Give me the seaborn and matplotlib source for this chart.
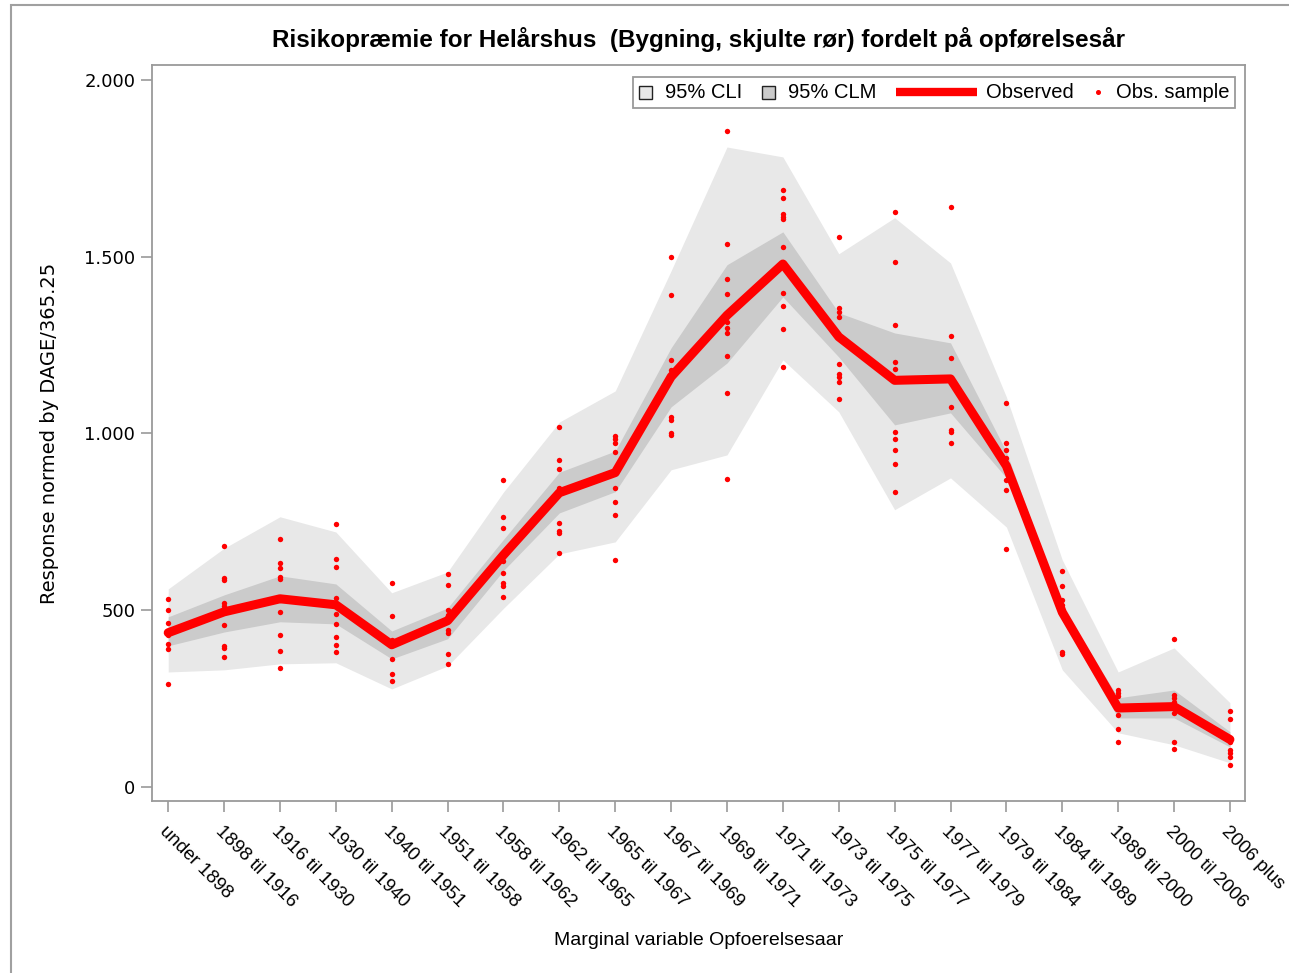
"""
Risk premium by construction period, observed mean with CLI / CLM bands.
"""
import matplotlib
matplotlib.use("Agg")
import matplotlib.pyplot as plt
import seaborn as sns
import pandas as pd
import numpy as np
from matplotlib.offsetbox import AnchoredOffsetbox, DrawingArea, HPacker, TextArea
from matplotlib.patches import Rectangle
from matplotlib.lines import Line2D

periods = ["under 1898", "1898 til 1916", "1916 til 1930", "1930 til 1940",
           "1940 til 1951", "1951 til 1958", "1958 til 1962", "1962 til 1965",
           "1965 til 1967", "1967 til 1969", "1969 til 1971", "1971 til 1973",
           "1973 til 1975", "1975 til 1977", "1977 til 1979", "1979 til 1984",
           "1984 til 1989", "1989 til 2000", "2000 til 2006", "2006 plus"]

observed = [436, 495, 532, 515, 402, 470, 656, 832, 889, 1160,
            1334, 1479, 1273, 1150, 1154, 908, 494, 223, 227, 134]

cli_low = [325, 331, 348, 351, 277, 342, 505, 659, 693, 897,
           939, 1208, 1061, 784, 874, 735, 331, 153, 119, 68]
cli_high = [560, 675, 764, 721, 549, 608, 834, 1032, 1120, 1460,
            1810, 1782, 1508, 1610, 1482, 1103, 642, 325, 393, 238]
clm_low = [399, 438, 467, 461, 362, 419, 612, 775, 835, 1075,
           1199, 1386, 1216, 1024, 1058, 874, 472, 195, 195, 113]
clm_high = [481, 543, 597, 574, 441, 506, 700, 890, 950, 1242,
            1477, 1570, 1341, 1284, 1256, 948, 509, 252, 274, 156]

# sampled observations per period
obs_sample = [
    [532, 501, 464, 440, 430, 405, 390, 291],
    [682, 591, 586, 520, 512, 458, 399, 393, 368],
    [702, 634, 620, 594, 588, 529, 495, 430, 385, 337],
    [744, 645, 622, 535, 489, 461, 424, 402, 382],
    [577, 484, 416, 362, 320, 300],
    [603, 571, 501, 487, 444, 436, 376, 348],
    [868, 764, 733, 639, 605, 577, 569, 537],
    [1018, 925, 899, 846, 747, 724, 719, 662],
    [993, 984, 973, 948, 846, 806, 769, 642],
    [1499, 1392, 1208, 1180, 1047, 1038, 1001, 996],
    [1856, 1536, 1437, 1395, 1315, 1298, 1284, 1219, 1115, 871],
    [1689, 1666, 1621, 1612, 1605, 1528, 1397, 1361, 1296, 1188],
    [1556, 1355, 1344, 1330, 1197, 1168, 1160, 1146, 1098],
    [1627, 1485, 1307, 1202, 1182, 1004, 984, 953, 914, 834],
    [1641, 1276, 1214, 1075, 1010, 1004, 973],
    [1086, 973, 953, 931, 905, 868, 840, 673],
    [611, 569, 529, 515, 501, 382, 376],
    [274, 266, 257, 204, 164, 127],
    [419, 260, 251, 240, 209, 127, 107],
    [215, 192, 139, 127, 105, 96, 85, 62],
]

RED = "#FF0000"
CLI_COLOR = "#E8E8E8"
CLM_COLOR = "#CBCBCB"
SPINE = "#9A9A9A"

sns.set_theme(style="white")
plt.rcParams["font.family"] = ["Liberation Sans", "DejaVu Sans"]
plt.rcParams["text.color"] = "black"
plt.rcParams["axes.labelcolor"] = "black"

pos = np.arange(len(periods))
line_df = pd.DataFrame({"pos": pos, "observed": observed})
pts_df = pd.DataFrame(
    [(i, v) for i, vals in enumerate(obs_sample) for v in vals],
    columns=["pos", "value"])

fig = plt.figure(figsize=(12.89, 9.73), dpi=100)
ax = fig.add_axes([152 / 1289, 1 - 801 / 973,
                   (1245 - 152) / 1289, (801 - 65) / 973])

ax.fill_between(pos, cli_low, cli_high, color=CLI_COLOR, lw=0, zorder=1)
ax.fill_between(pos, clm_low, clm_high, color=CLM_COLOR, lw=0, zorder=2)
sns.lineplot(data=line_df, x="pos", y="observed", color=RED, lw=6.5,
             ax=ax, zorder=3)
sns.scatterplot(data=pts_df, x="pos", y="value", color=RED, s=15,
                linewidth=0, ax=ax, zorder=4)

ax.set_xlim(-0.29, 19.27)
ax.set_ylim(-40, 2042)
ax.set_xticks(pos)
ax.set_xticklabels(periods, rotation=-45, ha="left", va="top",
                   rotation_mode="anchor", fontsize=13.5)
ax.set_yticks([0, 500, 1000, 1500, 2000])
ax.yaxis.set_major_formatter(
    plt.FuncFormatter(lambda x, p: f"{x:,.0f}".replace(",", ".")))
for lab in ax.get_yticklabels():
    lab.set_family("DejaVu Sans")
    lab.set_fontsize(13)
ax.tick_params(axis="both", direction="out", length=8, width=1.2,
               color=SPINE, labelcolor="black", bottom=True, left=True)
ax.tick_params(axis="x", pad=8)
ax.tick_params(axis="y", pad=4)
for sp in ax.spines.values():
    sp.set_color(SPINE)
    sp.set_linewidth(1.3)

ax.set_xlabel("Marginal variable Opfoerelsesaar", fontsize=14, labelpad=15)
ax.set_ylabel("Response normed by DAGE/365.25", fontsize=14,
              family="DejaVu Sans", labelpad=18)
ax.set_title("Risikopræmie for Helårshus  (Bygning, skjulte rør) fordelt på opførelsesår",
             fontsize=17.5, fontweight="bold", pad=13, color="black")


# legend built from small boxes
def legend_item(handle, label, sep=9):
    txt = TextArea(label, textprops=dict(fontsize=14.5, color="black"))
    return HPacker(children=[handle, txt], align="center", pad=0, sep=sep)


sq_cli = DrawingArea(10, 10)
sq_cli.add_artist(Rectangle((0.5, 0.5), 9, 9, fc=CLI_COLOR, ec="#222222", lw=1))
sq_clm = DrawingArea(10, 10)
sq_clm.add_artist(Rectangle((0.5, 0.5), 9, 9, fc=CLM_COLOR, ec="#222222", lw=1))
ln_obs = DrawingArea(58, 10)
ln_obs.add_artist(Line2D([0, 58], [5, 5], color=RED, lw=6, solid_capstyle="butt"))
dot_obs = DrawingArea(6, 10)
dot_obs.add_artist(Line2D([3], [5], marker="o", ms=2.6, color=RED, lw=0))

box = HPacker(children=[legend_item(sq_cli, "95% CLI"),
                        legend_item(sq_clm, "95% CLM"),
                        legend_item(ln_obs, "Observed", sep=7),
                        legend_item(dot_obs, "Obs. sample", sep=10)],
              align="center", pad=0, sep=14)
leg = AnchoredOffsetbox(loc="upper right", child=box, pad=0.3, borderpad=0,
                        frameon=True, prop=dict(size=14),
                        bbox_to_anchor=((1235 - 152) / 1093, 1 - 12 / 736),
                        bbox_transform=ax.transAxes)
leg.patch.set_boxstyle("square", pad=0)
leg.patch.set_edgecolor(SPINE)
leg.patch.set_linewidth(1.3)
ax.add_artist(leg)

# outer page frame
fig.add_artist(Rectangle((11 / 1289, -0.1), 1.2, 1.1 - 5 / 973,
                         transform=fig.transFigure, fill=False,
                         ec="#A0A0A0", lw=1.5))

fig.savefig("out.png", dpi=100, facecolor="white")
plt.close(fig)
